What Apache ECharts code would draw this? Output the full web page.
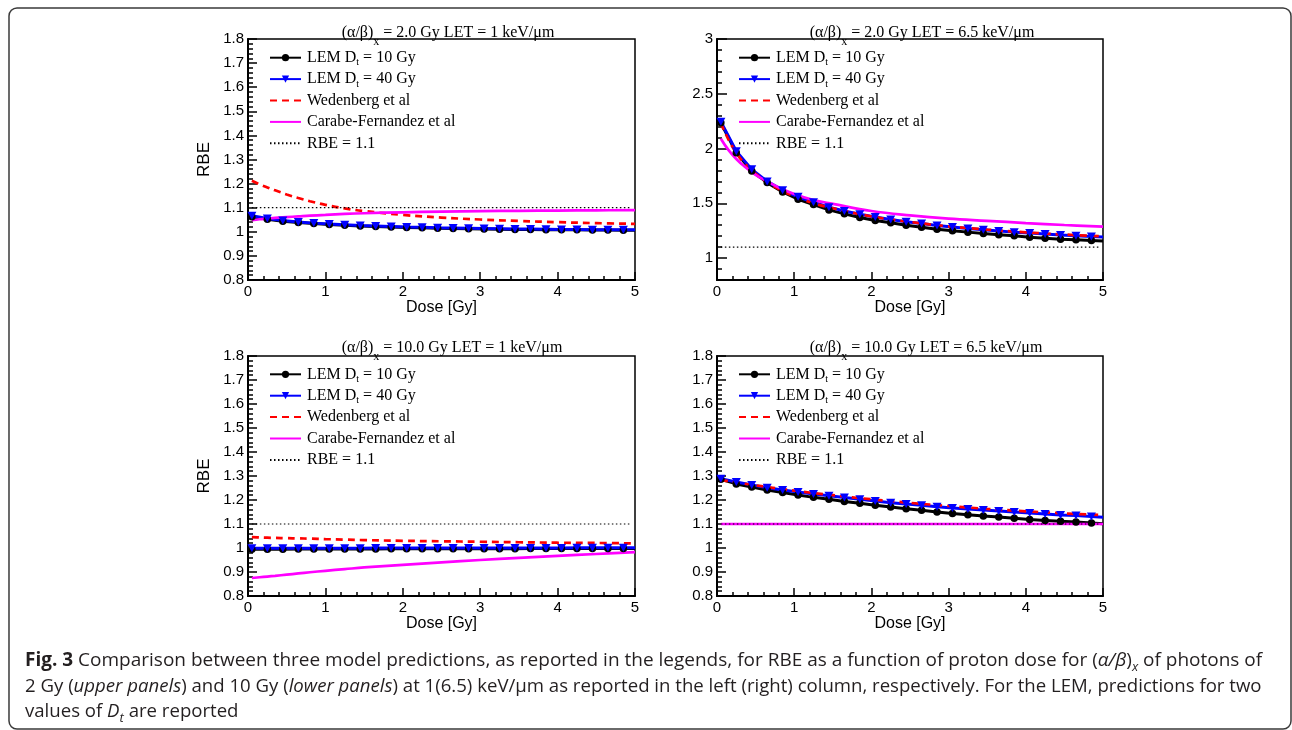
<!DOCTYPE html>
<html><head><meta charset="utf-8">
<script src="https://cdn.jsdelivr.net/npm/echarts@6/dist/echarts.min.js"></script>
<style>html,body{margin:0;padding:0;background:#fff}#c{width:1292px;height:730px}</style>
</head><body><div id="c"></div>
<script>
// ---------------- data ----------------
const SERIES_NAMES = ['LEM Dt = 10 Gy', 'LEM Dt = 40 Gy', 'Wedenberg et al', 'Carabe-Fernandez et al', 'RBE = 1.1'];
const PANEL_AB = ['2.0', '2.0', '10.0', '10.0'];
const PANEL_LET = ['1', '6.5', '1', '6.5'];

const DOSE_LEM = [0.05,0.25,0.45,0.65,0.85,1.05,1.25,1.45,1.65,1.85,2.05,2.25,2.45,2.65,2.85,3.05,3.25,3.45,3.65,3.85,4.05,4.25,4.45,4.65,4.85,5.0];
const DOSE_MODEL = [0.05,0.15,0.25,0.35,0.5,0.65,0.8,1,1.25,1.5,2,2.5,3,3.5,4,4.5,5];
const DOSE_REF = [0.05, 4.95];
const RBE_REF = [1.1, 1.1];

// top-left: (a/b)x = 2 Gy, LET = 1
const TL_LEM10 = [1.062,1.052,1.044,1.039,1.034,1.030,1.027,1.024,1.022,1.020,1.018,1.017,1.015,1.014,1.013,1.012,1.011,1.010,1.010,1.009,1.008,1.008,1.007,1.007,1.006,1.006];
const TL_LEM40 = [1.067,1.055,1.047,1.041,1.036,1.032,1.029,1.026,1.024,1.022,1.020,1.019,1.017,1.016,1.015,1.014,1.013,1.012,1.012,1.011,1.010,1.010,1.009,1.009,1.008,1.008];
const TL_WED   = [1.212,1.197,1.184,1.172,1.155,1.140,1.127,1.112,1.097,1.086,1.070,1.059,1.051,1.045,1.040,1.036,1.033];
const TL_CAR   = [1.048,1.052,1.055,1.058,1.061,1.064,1.067,1.070,1.074,1.077,1.081,1.084,1.086,1.087,1.088,1.089,1.090];

// top-right: (a/b)x = 2 Gy, LET = 6.5
const TR_LEM10 = [2.235,1.962,1.795,1.689,1.604,1.537,1.489,1.440,1.404,1.370,1.343,1.322,1.300,1.282,1.264,1.249,1.237,1.225,1.212,1.203,1.191,1.182,1.173,1.167,1.161,1.155];
const TR_LEM40 = [2.245,1.975,1.810,1.700,1.620,1.560,1.510,1.465,1.430,1.400,1.375,1.352,1.332,1.315,1.298,1.284,1.270,1.258,1.247,1.237,1.228,1.219,1.211,1.204,1.197,1.192];
const TR_WED   = [2.230,2.080,1.960,1.870,1.770,1.690,1.630,1.565,1.500,1.455,1.380,1.330,1.290,1.260,1.235,1.215,1.198];
const TR_CAR   = [2.090,1.985,1.905,1.840,1.760,1.700,1.645,1.585,1.530,1.495,1.430,1.390,1.360,1.340,1.320,1.302,1.288];

// bottom-left: (a/b)x = 10 Gy, LET = 1
const BL_LEM10 = [0.995,0.995,0.995,0.996,0.996,0.996,0.996,0.996,0.996,0.997,0.997,0.997,0.997,0.997,0.997,0.997,0.997,0.997,0.998,0.998,0.998,0.998,0.998,0.998,0.998,0.998];
const BL_LEM40 = [0.999,0.999,0.999,0.999,0.999,0.999,0.999,0.999,1.000,1.000,1.000,1.000,1.000,1.000,1.000,1.000,1.000,1.000,1.000,1.000,1.000,1.001,1.001,1.001,1.001,1.001];
const BL_WED   = [1.045,1.044,1.043,1.042,1.041,1.040,1.039,1.037,1.035,1.033,1.030,1.028,1.026,1.024,1.022,1.021,1.019];
const BL_CAR   = [0.875,0.878,0.881,0.884,0.889,0.894,0.899,0.905,0.912,0.919,0.930,0.940,0.950,0.959,0.967,0.975,0.983];

// bottom-right: (a/b)x = 10 Gy, LET = 6.5
const BR_LEM10 = [1.286,1.267,1.254,1.242,1.231,1.221,1.211,1.203,1.194,1.186,1.178,1.171,1.164,1.157,1.150,1.144,1.139,1.133,1.129,1.124,1.119,1.115,1.111,1.108,1.104,1.101];
const BR_LEM40 = [1.289,1.275,1.263,1.251,1.242,1.233,1.225,1.218,1.210,1.203,1.196,1.189,1.183,1.178,1.172,1.167,1.162,1.158,1.154,1.150,1.146,1.142,1.138,1.135,1.131,1.128];
const BR_WED   = [1.283,1.278,1.273,1.268,1.261,1.254,1.247,1.239,1.229,1.220,1.203,1.188,1.175,1.163,1.153,1.144,1.137];
const BR_CAR   = [1.100,1.100,1.100,1.100,1.100,1.100,1.100,1.100,1.100,1.100,1.100,1.100,1.100,1.100,1.100,1.100,1.100];

const Y_MIN = [0.8, 0.8, 0.8, 0.8];
const Y_MAX = [1.8, 3, 1.8, 1.8];
const Y_LABELS_TR = [1, 1.5, 2, 2.5, 3];

// ---------------- layout ----------------
const PANEL_DATA = [
  [TL_LEM10, TL_LEM40, TL_WED, TL_CAR],
  [TR_LEM10, TR_LEM40, TR_WED, TR_CAR],
  [BL_LEM10, BL_LEM40, BL_WED, BL_CAR],
  [BR_LEM10, BR_LEM40, BR_WED, BR_CAR]
];
const GRIDS = [
  {left: 248, top: 39, width: 387, height: 241},
  {left: 717, top: 39, width: 386, height: 241},
  {left: 248, top: 356, width: 387, height: 240},
  {left: 717, top: 356, width: 386, height: 240}
];
const TITLE_POS = [[448, 33], [922, 33], [452, 348], [926, 348]];
const LEGEND_POS = [[269, 47.7], [738, 47.7], [269, 364.3], [738, 364.3]];
const SHOW_RBE_NAME = [true, false, true, false];

const SANS = 'Liberation Sans';
const SERIF = 'Liberation Serif';
const TRI_DOWN = 'path://M0,0 L10,0 L5,9 Z';

const grid = [], xAxis = [], yAxis = [], series = [], legend = [], graphic = [];

GRIDS.forEach(function (g, i) {
  grid.push(Object.assign({show: true, borderColor: '#000', borderWidth: 1.5, backgroundColor: 'transparent', containLabel: false}, g));
  xAxis.push({
    type: 'value', gridIndex: i, min: 0, max: 5, interval: 1,
    name: 'Dose [Gy]', nameLocation: 'middle', nameGap: 19,
    nameTextStyle: {fontFamily: SANS, fontSize: 16, color: '#000'},
    axisLine: {show: true, onZero: false, lineStyle: {color: '#000', width: 2}},
    axisTick: {show: true, inside: true, length: 8, lineStyle: {color: '#000', width: 1.5}},
    minorTick: {show: true, splitNumber: 5, length: 4, lineStyle: {color: '#000', width: 1.5}},
    axisLabel: {fontFamily: SANS, fontSize: 15, color: '#000', margin: 4},
    splitLine: {show: false}, minorSplitLine: {show: false}
  });
  let mainY;
  const nameOpts = SHOW_RBE_NAME[i] ? {
    name: 'RBE', nameLocation: 'middle', nameGap: 35, nameRotate: 90,
    nameTextStyle: {fontFamily: SANS, fontSize: 17, color: '#000'}
  } : {};
  if (i === 1) {
    mainY = yAxis.length;
    yAxis.push({
      type: 'value', gridIndex: i, min: Y_MIN[i], max: Y_MAX[i], interval: 0.1,
      axisLine: {show: true, onZero: false, lineStyle: {color: '#000', width: 2}},
      axisTick: {show: true, inside: true, length: 5, lineStyle: {color: '#000', width: 1.5}},
      axisLabel: {show: false}, splitLine: {show: false}
    });
    yAxis.push(Object.assign({
      type: 'value', gridIndex: i, min: Y_MIN[i], max: Y_MAX[i], position: 'left',
      axisLine: {show: false},
      axisTick: {show: true, inside: true, length: 10, customValues: Y_LABELS_TR, lineStyle: {color: '#000', width: 1.5}},
      axisLabel: {fontFamily: SANS, fontSize: 15, color: '#000', margin: 4, customValues: Y_LABELS_TR},
      splitLine: {show: false}
    }, nameOpts));
  } else {
    mainY = yAxis.length;
    yAxis.push(Object.assign({
      type: 'value', gridIndex: i, min: Y_MIN[i], max: Y_MAX[i], interval: 0.1,
      axisLine: {show: true, onZero: false, lineStyle: {color: '#000', width: 2}},
      axisTick: {show: true, inside: true, length: 9, lineStyle: {color: '#000', width: 1.5}},
      minorTick: {show: true, splitNumber: 5, length: 5, lineStyle: {color: '#000', width: 1.5}},
      axisLabel: {fontFamily: SANS, fontSize: 15, color: '#000', margin: 4},
      splitLine: {show: false}, minorSplitLine: {show: false}
    }, nameOpts));
  }
  const d = PANEL_DATA[i];
  const lemData = function (vals) {
    return DOSE_LEM.map(function (x, k) {
      return k === DOSE_LEM.length - 1 ? {value: [x, vals[k]], symbol: 'none'} : [x, vals[k]];
    });
  };
  const base = {type: 'line', xAxisIndex: i, yAxisIndex: mainY, animation: false, silent: true, showAllSymbol: true, emphasis: {disabled: true}};
  series.push(Object.assign({}, base, {
    name: SERIES_NAMES[0], data: lemData(d[0]), symbol: 'circle', symbolSize: 7.5,
    itemStyle: {color: '#000'}, lineStyle: {color: '#000', width: 3}
  }));
  series.push(Object.assign({}, base, {
    name: SERIES_NAMES[1], data: lemData(d[1]), symbol: TRI_DOWN, symbolSize: [9, 8],
    itemStyle: {color: '#0000ff'}, lineStyle: {color: '#0000ff', width: 3}
  }));
  series.push(Object.assign({}, base, {
    name: SERIES_NAMES[2], data: DOSE_MODEL.map(function (x, k) { return [x, d[2][k]]; }),
    symbol: 'none', smooth: 0.4,
    itemStyle: {color: '#ff0000', opacity: 0}, lineStyle: {color: '#ff0000', width: 2.7, type: [7, 5]}
  }));
  series.push(Object.assign({}, base, {
    name: SERIES_NAMES[3], data: DOSE_MODEL.map(function (x, k) { return [x, d[3][k]]; }),
    symbol: 'none', smooth: 0.4,
    itemStyle: {color: '#ff00ff', opacity: 0}, lineStyle: {color: '#ff00ff', width: 2.7}
  }));
  series.push(Object.assign({}, base, {
    name: SERIES_NAMES[4], data: DOSE_REF.map(function (x, k) { return [x, RBE_REF[k]]; }),
    symbol: 'none',
    itemStyle: {color: '#000', opacity: 0}, lineStyle: {color: '#000', width: 1.2, type: [1.5, 2.5]}
  }));
  legend.push({
    data: SERIES_NAMES.slice(), orient: 'vertical', left: LEGEND_POS[i][0], top: LEGEND_POS[i][1],
    itemWidth: 31, itemHeight: 9, itemGap: 1.4, selectedMode: false, padding: 0,
    formatter: function (name) { return name.replace('Dt', 'D{s|t}'); },
    textStyle: {fontFamily: SERIF, fontSize: 16, color: '#000', lineHeight: 20, padding: [0, 0, 0, 1],
      rich: {s: {fontFamily: SERIF, fontSize: 10, color: '#000', lineHeight: 20, verticalAlign: 'bottom'}}}
  });
  graphic.push({
    type: 'text', x: TITLE_POS[i][0], y: TITLE_POS[i][1], silent: true,
    style: {
      text: '{n|(α/β)}{s|x}{n| = ' + PANEL_AB[i] + ' Gy LET = ' + PANEL_LET[i] + ' keV/μm}',
      align: 'center', verticalAlign: 'middle',
      rich: {
        n: {fontFamily: SERIF, fontSize: 16, fill: '#000', lineHeight: 30},
        s: {fontFamily: SERIF, fontSize: 12, fill: '#000', lineHeight: 30, verticalAlign: 'bottom'}
      }
    }
  });
});

// caption
const CAP_FONT = 'Open Sans';
const CAP_SIZES = [19, 18.6, 18.6];
function capRich(sz) {
  return {
    b: {fontFamily: CAP_FONT, fontSize: sz, fontWeight: 'bold', fill: '#231f20', lineHeight: 26},
    i: {fontFamily: CAP_FONT, fontSize: sz, fontStyle: 'italic', fill: '#231f20', lineHeight: 26},
    n: {fontFamily: CAP_FONT, fontSize: sz, fill: '#231f20', lineHeight: 26},
    si: {fontFamily: CAP_FONT, fontSize: 13, fontStyle: 'italic', fill: '#231f20', lineHeight: 26, verticalAlign: 'bottom'}
  };
}
const CAPTION = [
  '{b|Fig. 3}{n| Comparison between three model predictions, as reported in the legends, for RBE as a function of proton dose for (}{i|α/β}{n|)}{si|x}{n| of photons of}',
  '{n|2 Gy (}{i|upper panels}{n|) and 10 Gy (}{i|lower panels}{n|) at 1(6.5) keV/μm as reported in the left (right) column, respectively. For the LEM, predictions for two}',
  '{n|values of }{i|D}{si|t}{n| are reported}'
];
const CAP_Y = [661, 687, 712];
CAPTION.forEach(function (t, k) {
  graphic.push({type: 'text', x: 25, y: CAP_Y[k], silent: true,
    style: {text: t, rich: capRich(CAP_SIZES[k]), align: 'left', verticalAlign: 'middle'}});
});
graphic.push({type: 'rect', silent: true, z: -1,
  shape: {x: 9, y: 8, width: 1282, height: 721, r: 8},
  style: {fill: 'none', stroke: '#3a3a3a', lineWidth: 1.5}});

const chart = echarts.init(document.getElementById('c'), null, {renderer: 'canvas'});
chart.setOption({
  backgroundColor: '#fff', animation: false,
  grid: grid, xAxis: xAxis, yAxis: yAxis, series: series, legend: legend, graphic: graphic
});
</script></body></html>
